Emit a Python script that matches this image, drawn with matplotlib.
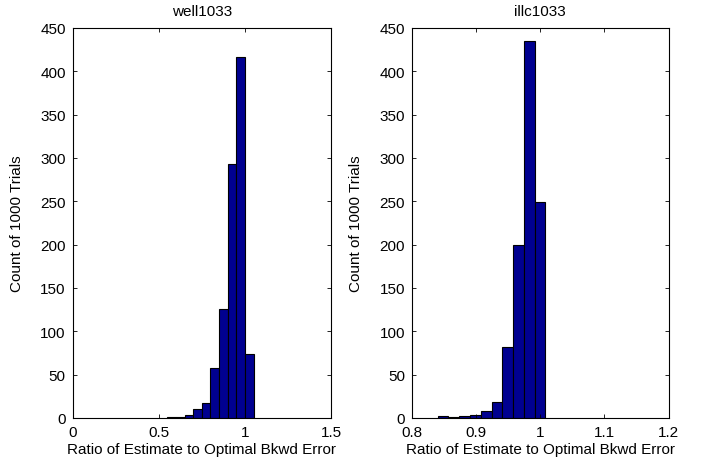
import numpy as np
import matplotlib.pyplot as plt

plt.rcParams['font.family'] = ['Liberation Sans', 'DejaVu Sans']

# histogram bins and counts for the two test matrices
well_edges = [0.55, 0.60, 0.65, 0.70, 0.75, 0.80, 0.85, 0.90, 0.95, 1.00, 1.05]
well_counts = [1, 1, 3, 10, 17, 58, 126, 293, 417, 74]

illc_edges = [0.8400, 0.8568, 0.8736, 0.8904, 0.9072, 0.9240,
              0.9408, 0.9576, 0.9744, 0.9912, 1.0080]
illc_counts = [2, 1, 2, 3, 8, 18, 82, 200, 435, 249]

well_xticks = [0, 0.5, 1, 1.5]
well_xlabels = ["0", "0.5", "1", "1.5"]
illc_xticks = [0.8, 0.9, 1.0, 1.1, 1.2]
illc_xlabels = ["0.8", "0.9", "1", "1.1", "1.2"]
yticks = list(range(0, 451, 50))

panels = [
    ("well1033", well_edges, well_counts, (0, 1.5), well_xticks, well_xlabels,
     [0.1033, 0.097, 0.3669, 0.8405]),
    ("illc1033", illc_edges, illc_counts, (0.8, 1.2), illc_xticks, illc_xlabels,
     [0.5852, 0.097, 0.3646, 0.8405]),
]

fs = 11

fig = plt.figure(figsize=(7.04, 4.64), dpi=100)

for title, edges, counts, xlim, xt, xl, pos in panels:
    ax = fig.add_axes(pos)
    edges = np.array(edges)
    ax.bar(edges[:-1], counts, width=np.diff(edges), align='edge',
           color='#000090', edgecolor='black', linewidth=0.8)
    ax.set_xlim(*xlim)
    ax.set_ylim(0, 450)
    ax.set_xticks(xt)
    ax.set_xticklabels(xl)
    ax.set_yticks(yticks)
    ax.tick_params(direction='in', top=True, right=True, length=3,
                   labelsize=fs, width=0.6)
    ax.tick_params(axis='x', pad=5)
    ax.tick_params(axis='y', pad=5)
    for s in ax.spines.values():
        s.set_linewidth(0.8)
    ax.set_title(title, fontsize=fs, pad=9)
    ax.set_xlabel("Ratio of Estimate to Optimal Bkwd Error", fontsize=fs,
                  labelpad=2)
    ax.set_ylabel("Count of 1000 Trials", fontsize=fs)
    ax.yaxis.set_label_coords(-0.19, 0.5)

fig.savefig("out.png", dpi=100)
